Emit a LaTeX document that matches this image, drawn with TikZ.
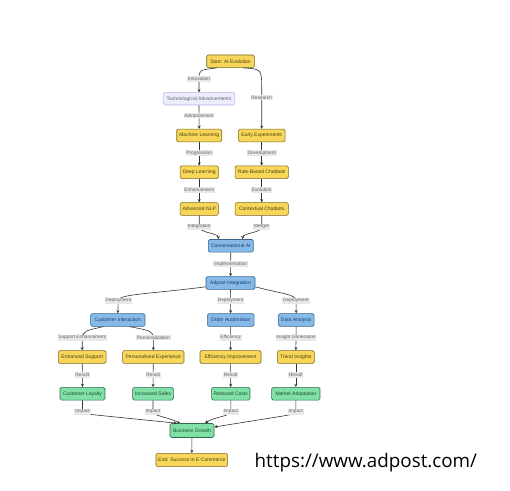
\documentclass[tikz,border=0pt]{standalone}
\usepackage{fontspec}
\setmainfont{Liberation Sans}
\newfontfamily\urlfont{Open Sans}
\usetikzlibrary{arrows.meta,calc}
\definecolor{ylwfill}{HTML}{F7D65A}
\definecolor{ylwdraw}{HTML}{7A6A20}
\definecolor{ylwtext}{HTML}{4A4010}
\definecolor{bluefill}{HTML}{84B9E8}
\definecolor{bluedraw}{HTML}{3A648E}
\definecolor{bluetext}{HTML}{1F3F66}
\definecolor{grnfill}{HTML}{80E0A8}
\definecolor{grndraw}{HTML}{2F6E48}
\definecolor{grntext}{HTML}{1F4A30}
\definecolor{lavfill}{HTML}{ECECFF}
\definecolor{lavdraw}{HTML}{B8B0E8}
\definecolor{edgecol}{HTML}{333333}
\definecolor{lblfill}{HTML}{E8E8E8}
\definecolor{lbltext}{HTML}{666666}
\tikzset{
  x=1pt, y=-1pt,
  box/.style={rectangle, rounded corners=1.5pt, line width=0.6pt, minimum height=12.7pt,
    inner sep=0pt, font=\fontsize{5}{6}\selectfont},
  ylw/.style={box, fill=ylwfill, draw=ylwdraw, text=ylwtext},
  blu/.style={box, fill=bluefill, draw=bluedraw, text=bluetext},
  grn/.style={box, fill=grnfill, draw=grndraw, text=grntext},
  lav/.style={box, fill=lavfill, draw=lavdraw, text=lbltext},
  edge/.style={draw=edgecol, line width=0.6pt, -{Stealth[length=3.2pt,width=3pt]}},
  lbl/.style={fill=lblfill, text=lbltext, inner xsep=0.8pt, inner ysep=0.8pt,
    font=\fontsize{4.8}{5.5}\selectfont},
}
\begin{document}
\begin{tikzpicture}
\useasboundingbox[fill=white] (0,0) rectangle (510,490);
% nodes
\node[ylw, minimum width=47.6pt] (start) at (230.5,61.3) {Start: AI Evolution};
\node[lav, minimum width=71.7pt, minimum height=12.3pt] (tech) at (199,98.8) {Technological Advancements};
\node[ylw, minimum width=45pt] (ml) at (199.2,135.5) {Machine Learning};
\node[ylw, minimum width=46.7pt] (early) at (261.7,135.5) {Early Experiments};
\node[ylw, minimum width=38.3pt] (dl) at (199.2,172.2) {Deep Learning};
\node[ylw, minimum width=53.3pt] (rule) at (261.7,172.2) {Rule-Based Chatbots};
\node[ylw, minimum width=38.3pt] (nlp) at (199.2,209) {Advanced NLP};
\node[ylw, minimum width=53.3pt] (ctx) at (261.7,209) {Contextual Chatbots};
\node[blu, minimum width=45pt] (conv) at (230.8,245.8) {Conversational AI};
\node[blu, minimum width=49pt] (adpost) at (230.5,283) {Adpost Integration};
\node[blu, minimum width=54.3pt] (ci) at (117.8,320) {Customer Interaction};
\node[blu, minimum width=46.7pt] (oa) at (230.7,320) {Order Automation};
\node[blu, minimum width=35.7pt] (da) at (296.2,320) {Data Analysis};
\node[ylw, minimum width=47.7pt] (es) at (82.2,357) {Enhanced Support};
\node[ylw, minimum width=61.3pt] (pe) at (153.3,357) {Personalised Experience};
\node[ylw, minimum width=61pt] (ei) at (230.5,357) {Efficiency Improvement};
\node[ylw, minimum width=37pt] (ti) at (295.8,357) {Trend Insights};
\node[grn, minimum width=45pt] (cl) at (82.5,393.7) {Customer Loyalty};
\node[grn, minimum width=40.7pt] (is) at (153,393.7) {Increased Sales};
\node[grn, minimum width=38.3pt] (rc) at (230.8,393.7) {Reduced Costs};
\node[grn, minimum width=48.3pt] (ma) at (295.8,393.7) {Market Adaptation};
\node[grn, minimum width=44pt, minimum height=14pt] (bg) at (192,430.5) {Business Growth};
\node[ylw, minimum width=71.7pt, minimum height=13.3pt] (end) at (191.8,460) {End: Success in E-Commerce};
% label coordinates
\coordinate (lInnov) at (199,79);
\coordinate (lRes) at (261.7,97.7);
\coordinate (lAdv) at (199,115.7);
\coordinate (lProg) at (199.2,153.3);
\coordinate (lDev) at (261.7,153.3);
\coordinate (lEnh) at (199.2,190);
\coordinate (lEvo) at (261.7,190);
\coordinate (lInt) at (199.2,226.7);
\coordinate (lMer) at (261.7,226.7);
\coordinate (lImpl) at (230.7,264);
\coordinate (lDep1) at (118.3,300.7);
\coordinate (lDep2) at (230.6,300.7);
\coordinate (lDep3) at (296,300.7);
\coordinate (lSup) at (82.2,337.7);
\coordinate (lPers) at (153.3,337.7);
\coordinate (lEff) at (230.6,337.7);
\coordinate (lIns) at (296,337.7);
\coordinate (lRes1) at (82.3,375);
\coordinate (lRes2) at (153.2,375);
\coordinate (lRes3) at (230.6,375);
\coordinate (lRes4) at (295.8,375);
\coordinate (lImp1) at (82.5,411.7);
\coordinate (lImp2) at (153,411.7);
\coordinate (lImp3) at (230.8,411.7);
\coordinate (lImp4) at (295.8,411.7);
% edges
\draw[edge] ($(start.south)+(-14,0)$) .. controls (199,70) .. (lInnov) -- (tech.north);
\draw[edge] ($(start.south)+(13,0)$) .. controls (261.7,69) .. (261.7,90) -- (early.north);
\draw[edge] (tech.south -| lAdv) -- (ml.north);
\draw[edge] (ml) -- (dl);
\draw[edge] (early) -- (rule);
\draw[edge] (dl) -- (nlp);
\draw[edge] (rule) -- (ctx);
\draw[edge] (nlp.south) -- (lInt) .. controls (199.2,233) and (218.3,233) .. ($(conv.north)+(-12.5,0)$);
\draw[edge] (ctx.south) -- (lMer) .. controls (261.7,233) and (242.7,233) .. ($(conv.north)+(12,0)$);
\draw[edge] (conv) -- (adpost);
\draw[edge] ($(adpost.west)+(0,3.8)$) .. controls (150,294) and (118.3,294) .. (lDep1) -- (ci.north);
\draw[edge] (adpost) -- (oa);
\draw[edge] ($(adpost.east)+(0,3.8)$) .. controls (282,294) and (296,294) .. (lDep3) -- (da.north);
\draw[edge] ($(ci.south)+(-14.5,0)$) .. controls (84,331) .. (lSup) -- (es.north);
\draw[edge] ($(ci.south)+(12,0)$) .. controls (152,331) .. (lPers) -- (pe.north);
\draw[edge] (oa) -- (ei);
\draw[edge] (da) -- (ti);
\draw[edge] (es) -- (cl);
\draw[edge] (pe) -- (is);
\draw[edge] (ei) -- (rc);
\draw[edge] (ti) -- (ma);
\draw[edge] (cl.south) -- (lImp1) .. controls (82.5,414) and (88,414) .. (96,415) -- ($(bg.north west)+(7,0)$);
\draw[edge] (is.south) -- (lImp2) .. controls (153,416) and (168,417) .. ($(bg.north)+(-12,0)$);
\draw[edge] (rc.south) -- (lImp3) .. controls (230.8,416) and (214,417) .. ($(bg.north)+(13,0)$);
\draw[edge] (ma.south) -- (lImp4) .. controls (295.8,414) and (291,414.5) .. (283,416) -- ($(bg.east)+(0,-3.5)$);
\draw[edge] (bg) -- (end);
% labels
\node[lbl] (tInnov) at (lInnov) {Innovation};
\node[lbl] (tRes) at (lRes) {Research};
\node[lbl] (tAdv) at (lAdv) {Advancement};
\node[lbl] (tProg) at (lProg) {Progression};
\node[lbl] (tDev) at (lDev) {Development};
\node[lbl] (tEnh) at (lEnh) {Enhancement};
\node[lbl] (tEvo) at (lEvo) {Evolution};
\node[lbl] (tInt) at (lInt) {Integration};
\node[lbl] (tMer) at (lMer) {Merger};
\node[lbl] (tImpl) at (lImpl) {Implementation};
\node[lbl] (tDep1) at (lDep1) {Deployment};
\node[lbl] (tDep2) at (lDep2) {Deployment};
\node[lbl] (tDep3) at (lDep3) {Deployment};
\node[lbl] (tSup) at (lSup) {Support Enhancement};
\node[lbl] (tPers) at (lPers) {Personalization};
\node[lbl] (tEff) at (lEff) {Efficiency};
\node[lbl] (tIns) at (lIns) {Insight Generation};
\node[lbl] (tRes1) at (lRes1) {Result};
\node[lbl] (tRes2) at (lRes2) {Result};
\node[lbl] (tRes3) at (lRes3) {Result};
\node[lbl] (tRes4) at (lRes4) {Result};
\node[lbl] (tImp1) at (lImp1) {Impact};
\node[lbl] (tImp2) at (lImp2) {Impact};
\node[lbl] (tImp3) at (lImp3) {Impact};
\node[lbl] (tImp4) at (lImp4) {Impact};
% url
\node[anchor=base west, inner sep=0pt, font=\urlfont\fontsize{18.8}{20}\selectfont, text=black] (url) at (254.5,467) {https://www.adpost.com/};
\end{tikzpicture}
\end{document}
